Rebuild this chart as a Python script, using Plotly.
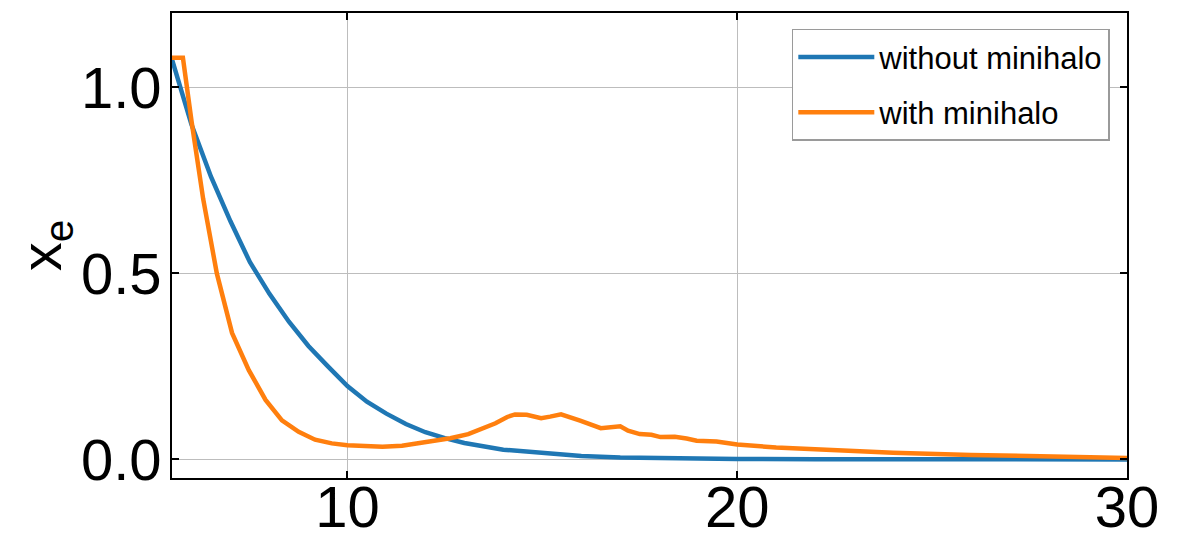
import plotly.graph_objects as go

# Data
x_without = [5.5, 6.0, 6.5, 7.0, 7.5, 8.0, 8.5, 9.0, 9.5, 10.0, 10.5, 11.0, 11.5, 12.0,
             12.5, 13.0, 14.0, 15.0, 16.0, 17.0, 18.0, 20.0, 22.0, 25.0, 30.0]
xe_without = [1.075, 0.90, 0.76, 0.64, 0.53, 0.445, 0.37, 0.305, 0.25, 0.197, 0.155, 0.123,
              0.095, 0.073, 0.057, 0.044, 0.026, 0.016, 0.009, 0.005, 0.003, 0.001, 0.0005,
              0.0, 0.0]

x_with = [5.5, 5.78, 6.0, 6.3, 6.65, 7.04, 7.47, 7.9, 8.32, 8.75, 9.17, 9.6, 10.0, 10.5,
          10.9, 11.4, 11.8, 12.2, 12.64, 13.1, 13.5, 13.8, 14.1, 14.3, 14.6, 14.97, 15.2,
          15.48, 15.97, 16.5, 17.0, 17.2, 17.5, 17.8, 18.03, 18.4, 18.7, 18.96, 19.47, 20.0,
          21.0, 22.3, 24.0, 26.0, 28.0, 30.0]
xe_with = [1.08, 1.08, 0.91, 0.70, 0.50, 0.34, 0.24, 0.16, 0.105, 0.074, 0.053, 0.043, 0.038,
           0.035, 0.034, 0.037, 0.043, 0.049, 0.057, 0.068, 0.083, 0.097, 0.114, 0.121, 0.120,
           0.111, 0.115, 0.121, 0.104, 0.084, 0.089, 0.077, 0.068, 0.066, 0.060, 0.061, 0.056,
           0.050, 0.048, 0.040, 0.032, 0.025, 0.018, 0.012, 0.008, 0.004]

series_names = ["without minihalo", "with minihalo"]
series_colors = ["#1f77b4", "#ff7f0e"]

x_ticks = [10, 20, 30]
y_ticks = [0.0, 0.5, 1.0]

tick_font = dict(family="Liberation Sans", size=58, color="black")

fig = go.Figure()
fig.add_trace(go.Scatter(x=x_without, y=xe_without, mode="lines", name=series_names[0],
                         legendgroup="a",
                         line=dict(color=series_colors[0], width=4.5)))
fig.add_trace(go.Scatter(x=x_with, y=xe_with, mode="lines", name=series_names[1],
                         legendgroup="b",
                         line=dict(color=series_colors[1], width=4.5)))

axis_common = dict(
    showline=True, linecolor="black", linewidth=1.5, mirror="allticks",
    ticks="inside", ticklen=7, tickwidth=1.5, tickcolor="black",
    showgrid=True, gridcolor="#bdbdbd", gridwidth=1.2, zeroline=False,
    tickfont=tick_font,
    automargin=False,
)

fig.update_xaxes(range=[5.5, 30], tickvals=x_ticks, ticktext=[str(v) for v in x_ticks],
                 ticklabelstandoff=-22, **axis_common)
fig.update_yaxes(range=[-0.05, 1.2], tickvals=y_ticks, ticktext=[f"{v:.1f}" for v in y_ticks],
                 ticklabelstandoff=-3,
                 title=dict(text="x<sub>e</sub>", font=dict(family="Liberation Sans", size=58,
                                                            color="black"), standoff=16),
                 **axis_common)

# page body has an 8px margin, so the figure is sized/offset to compensate
fig.update_layout(
    width=1174, height=530,
    margin=dict(l=164, r=55, t=5, b=60),
    plot_bgcolor="white", paper_bgcolor="white",
    showlegend=True,
    legend=dict(x=0.982, y=0.966, xanchor="right", yanchor="top",
                bgcolor="white", bordercolor="#9a9a9a", borderwidth=1.5,
                font=dict(family="Liberation Sans", size=31, color="black"),
                itemwidth=76, tracegroupgap=12),
)

fig.write_html("out.html")
